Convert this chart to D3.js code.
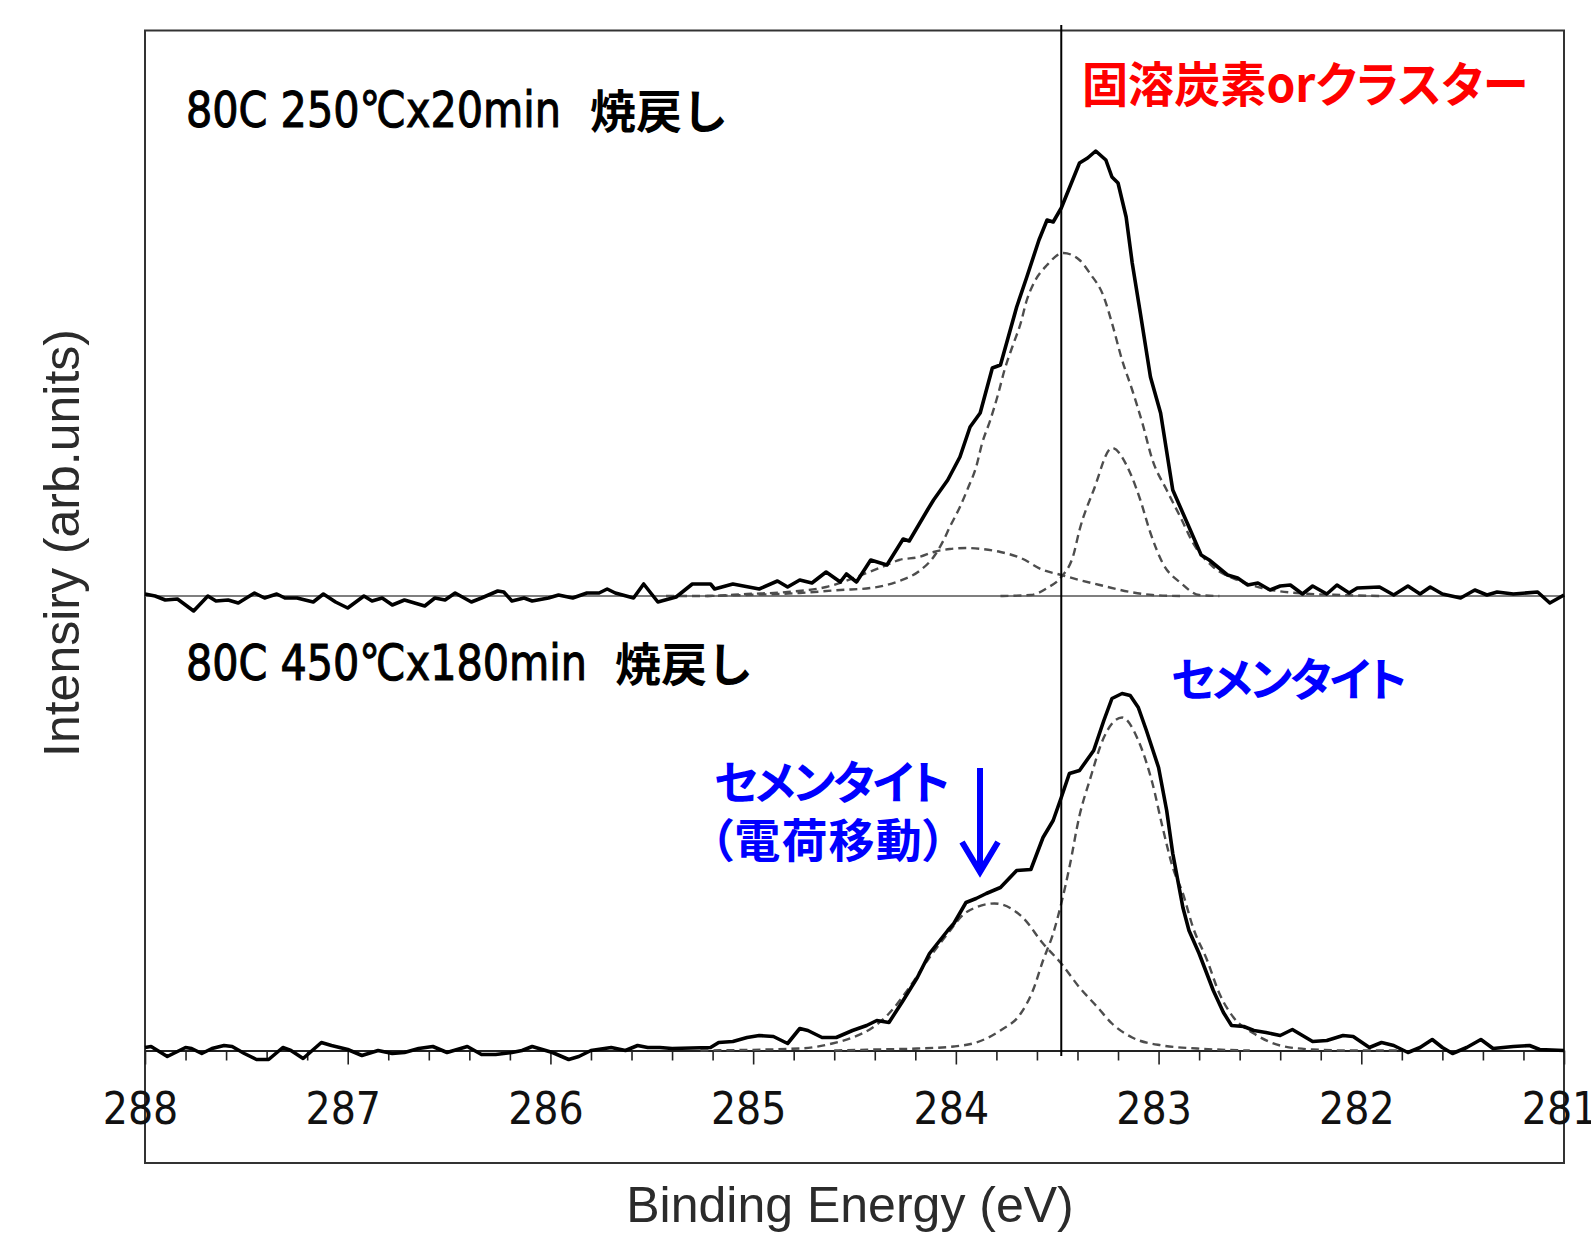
<!DOCTYPE html>
<html>
<head>
<meta charset="utf-8">
<script src="https://cdn.jsdelivr.net/npm/d3@7"></script>
<style>
  body { margin: 0; background: #fff; }
  svg { display: block; }
</style>
</head>
<body>
<svg id="chart" width="1591" height="1233"></svg>
<script>
// x axis ticks (binding energy, eV)
const majorTicks = [288, 287, 286, 285, 284, 283, 282, 281];
const refEnergy = 283.48; // vertical reference line

// upper spectrum: 80C 250°C x 20min, [eV, intensity]
const topMeasured = [
  [288.00,2],[287.95,0],[287.90,-4],[287.84,-3],[287.76,-15],[287.69,0],[287.65,-5],[287.59,-4],[287.54,-7],
  [287.46,3],[287.41,-2],[287.35,2],[287.31,-2],[287.25,-2],[287.17,-6],[287.12,2],[287.06,-6],[287.00,-12],
  [286.92,0],[286.88,-5],[286.83,-2],[286.78,-9],[286.72,-4],[286.62,-10],[286.57,-2],[286.52,-4],[286.47,3],
  [286.39,-6],[286.34,-2],[286.26,5],[286.23,4],[286.19,-5],[286.13,-2],[286.09,-5],[286.01,-2],[285.96,1],
  [285.89,-2],[285.82,3],[285.76,3],[285.72,7],[285.68,3],[285.59,-2],[285.54,12],[285.47,-6],[285.38,-1],
  [285.30,12],[285.21,12],[285.19,7],[285.10,12],[284.97,7],[284.88,15],[284.83,9],[284.77,16],[284.71,13],
  [284.64,24],[284.57,14],[284.54,22],[284.49,14],[284.42,36],[284.34,31],[284.26,57],[284.23,55],[284.14,86],
  [284.11,96],[284.04,116],[283.98,139],[283.93,169],[283.88,183],[283.82,228],[283.78,231],[283.70,289],
  [283.65,319],[283.59,356],[283.55,376],[283.52,374],[283.48,388],[283.39,433],[283.35,438],[283.31,445],
  [283.26,436],[283.23,419],[283.20,413],[283.16,379],[283.13,333],[283.09,283],[283.04,219],[282.99,183],
  [282.93,106],[282.85,69],[282.79,41],[282.75,36],[282.66,21],[282.61,18],[282.56,11],[282.51,13],[282.45,6],
  [282.40,10],[282.35,11],[282.29,2],[282.24,10],[282.17,2],[282.12,11],[282.06,3],[282.02,8],[281.91,9],
  [281.84,1],[281.77,10],[281.71,2],[281.66,9],[281.60,2],[281.51,-2],[281.44,6],[281.38,1],[281.33,4],
  [281.25,2],[281.13,4],[281.07,-7],[281.00,1]
];
const topFitA = [
  [285.23,0],[285.03,1],[284.77,3],[284.57,6],[284.42,8],[284.28,15],[284.18,25],[284.11,39],[284.06,56],
  [284.03,69],[283.98,89],[283.94,108],[283.90,129],[283.87,153],[283.83,176],[283.79,203],[283.76,226],
  [283.72,250],[283.68,273],[283.65,296],[283.62,311],[283.55,331],[283.47,343],[283.39,336],[283.34,323],
  [283.27,299],[283.23,273],[283.18,236],[283.13,206],[283.08,173],[283.03,136],[282.96,106],[282.89,78],
  [282.83,53],[282.73,29],[282.61,16],[282.49,8],[282.32,3],[282.10,1],[281.90,0]
];
const topFitB = [
  [285.43,0],[285.23,0],[285.03,2],[284.83,4],[284.64,9],[284.44,23],[284.34,31],[284.28,36],[284.18,39],
  [284.11,44],[284.03,47],[283.95,48],[283.87,47],[283.78,44],[283.68,38],[283.57,26],[283.48,21],[283.39,16],
  [283.29,11],[283.14,4],[283.03,1],[282.89,0]
];
const topFitC = [
  [283.78,0],[283.63,1],[283.55,8],[283.48,19],[283.42,41],[283.39,66],[283.32,106],[283.23,148],[283.14,123],
  [283.09,96],[283.04,63],[282.98,33],[282.89,13],[282.80,1],[282.70,0]
];

// lower spectrum: 80C 450°C x 180min
const botMeasured = [
  [288.00,3],[287.97,4],[287.89,-6],[287.84,-1],[287.80,3],[287.77,2],[287.72,-3],[287.67,2],[287.61,5],
  [287.57,4],[287.51,-3],[287.45,-9],[287.39,-9],[287.32,3],[287.28,0],[287.22,-8],[287.13,8],[287.08,5],
  [287.00,1],[286.93,-5],[286.85,0],[286.78,-3],[286.72,-2],[286.65,2],[286.58,4],[286.51,-2],[286.41,4],
  [286.34,-4],[286.27,-4],[286.19,-2],[286.14,0],[286.09,4],[285.99,-2],[285.91,-9],[285.86,-6],[285.80,0],
  [285.70,3],[285.63,0],[285.57,5],[285.52,3],[285.46,3],[285.40,2],[285.21,3],[285.17,8],[285.10,9],
  [285.03,13],[284.97,15],[284.90,14],[284.83,7],[284.77,22],[284.73,20],[284.66,13],[284.59,13],[284.51,20],
  [284.44,25],[284.39,30],[284.33,28],[284.26,50],[284.19,73],[284.13,97],[284.04,120],[284.01,127],
  [283.95,148],[283.90,152],[283.85,157],[283.78,163],[283.70,180],[283.63,181],[283.57,213],[283.52,230],
  [283.48,253],[283.44,277],[283.39,280],[283.32,300],[283.27,330],[283.23,352],[283.18,357],[283.14,355],
  [283.10,343],[283.06,320],[283.00,283],[282.96,240],[282.93,197],[282.88,143],[282.85,120],[282.80,97],
  [282.73,60],[282.68,38],[282.64,25],[282.58,24],[282.53,20],[282.47,18],[282.40,15],[282.34,21],[282.29,15],
  [282.24,9],[282.17,10],[282.09,15],[282.04,14],[281.96,3],[281.90,8],[281.84,5],[281.77,-2],[281.71,3],
  [281.65,11],[281.60,3],[281.55,-3],[281.48,3],[281.41,11],[281.35,2],[281.25,4],[281.17,5],[281.12,1],
  [281.00,0]
];
const botFitD = [
  [284.60,0],[284.40,1],[284.19,2],[284.01,4],[283.90,8],[283.78,20],[283.68,37],[283.62,60],[283.57,90],
  [283.52,117],[283.48,147],[283.44,183],[283.39,235],[283.34,270],[283.27,313],[283.18,333],[283.10,310],
  [283.03,267],[282.98,223],[282.93,183],[282.88,157],[282.83,123],[282.76,90],[282.70,57],[282.63,33],
  [282.53,17],[282.40,5],[282.24,1],[282.06,0],[281.81,0]
];
const botFitE = [
  [285.26,0],[284.77,2],[284.61,7],[284.51,13],[284.41,23],[284.33,37],[284.24,60],[284.14,90],[284.04,117],
  [283.95,138],[283.81,147],[283.67,133],[283.57,107],[283.48,87],[283.39,63],[283.30,43],[283.23,27],
  [283.13,13],[282.98,5],[282.81,2],[282.55,0]
];

const frame = { left: 145, top: 30.5, right: 1564, bottom: 1163 };
const svg = d3.select('#chart');

const x = d3.scaleLinear().domain([288, 281]).range([frame.left, frame.right]);
const yTop = d3.scaleLinear().domain([0, 450]).range([596, 146]);
const yBot = d3.scaleLinear().domain([0, 450]).range([1050.5, 600.5]);

const narrow = '"Liberation Sans Narrow", "DejaVu Sans Condensed", "Liberation Sans", sans-serif';
const jp = '"Noto Sans CJK JP", "Noto Sans", sans-serif';

// frame
svg.append('rect')
  .attr('x', frame.left).attr('y', frame.top)
  .attr('width', frame.right - frame.left).attr('height', frame.bottom - frame.top)
  .attr('fill', 'none').attr('stroke', '#333').attr('stroke-width', 2);

// baseline of upper spectrum
svg.append('line')
  .attr('x1', frame.left).attr('x2', frame.right)
  .attr('y1', yTop(0)).attr('y2', yTop(0))
  .attr('stroke', '#555').attr('stroke-width', 1.6);

// x axis with minor ticks
const minorTicks = d3.range(281, 288.001, 0.2).filter(v => Math.abs(v - Math.round(v)) > 0.01);
svg.append('g')
  .attr('transform', `translate(0,${yBot(0)})`)
  .call(d3.axisBottom(x).tickValues(minorTicks).tickSize(10).tickSizeOuter(0).tickFormat(''))
  .call(g => g.select('.domain').remove())
  .selectAll('line').attr('stroke', '#222').attr('stroke-width', 1.6);

const axis = svg.append('g')
  .attr('transform', `translate(0,${yBot(0)})`)
  .call(d3.axisBottom(x).tickValues(majorTicks).tickSize(14).tickSizeOuter(0).tickFormat(d3.format('d')));
axis.select('.domain').attr('stroke', '#222').attr('stroke-width', 2);
axis.selectAll('.tick line').attr('stroke', '#222').attr('stroke-width', 1.6);
axis.selectAll('.tick text')
  .attr('y', 1124 - yBot(0)).attr('dy', null).attr('x', -5)
  .attr('fill', '#111')
  .style('font-family', narrow).style('font-size', '44px');

// fitted components (dashed)
const smooth = ys => d3.line().x(d => x(d[0])).y(d => ys(d[1])).curve(d3.curveMonotoneX);
const raw = ys => d3.line().x(d => x(d[0])).y(d => ys(d[1]));

[[topFitA, yTop], [topFitB, yTop], [topFitC, yTop], [botFitD, yBot], [botFitE, yBot]].forEach(([s, ys]) => {
  svg.append('path')
    .attr('d', smooth(ys)(s))
    .attr('fill', 'none').attr('stroke', '#4d4d4d').attr('stroke-width', 2.4)
    .attr('stroke-dasharray', '8,5');
});

// measured spectra
[[topMeasured, yTop], [botMeasured, yBot]].forEach(([s, ys]) => {
  svg.append('path')
    .attr('d', raw(ys)(s))
    .attr('fill', 'none').attr('stroke', '#000').attr('stroke-width', 3.6)
    .attr('stroke-linejoin', 'round');
});

// reference line
svg.append('line')
  .attr('x1', x(refEnergy)).attr('x2', x(refEnergy))
  .attr('y1', 25).attr('y2', 1056)
  .attr('stroke', '#000').attr('stroke-width', 2);

// sample labels
function sampleLabel(latin, latinWidth, y, cjkX) {
  svg.append('text')
    .attr('x', 186).attr('y', y)
    .attr('textLength', latinWidth).attr('lengthAdjust', 'spacingAndGlyphs')
    .style('font-family', narrow).style('font-size', '50px')
    .attr('fill', '#000').attr('stroke', '#000').attr('stroke-width', 1)
    .text(latin);
  svg.append('text')
    .attr('x', cjkX).attr('y', y + 1)
    .style('font-family', jp).style('font-size', '46px').style('font-weight', 'bold').attr('fill', '#000')
    .text('焼戻し');
}
sampleLabel('80C 250℃x20min', 375, 127, 590);
sampleLabel('80C 450℃x180min', 401, 680, 615);

// annotations
svg.append('text')
  .attr('x', 1082).attr('y', 102)
  .attr('textLength', 446).attr('lengthAdjust', 'spacingAndGlyphs')
  .style('font-family', jp).style('font-size', '48px').style('font-weight', 'bold')
  .style('font-feature-settings', '"palt"')
  .attr('fill', '#ff0000')
  .text('固溶炭素orクラスター');

function blue(txt, xx, yy, len) {
  svg.append('text')
    .attr('x', xx).attr('y', yy)
    .attr('textLength', len).attr('lengthAdjust', 'spacing')
    .style('font-family', jp).style('font-size', '46px').style('font-weight', 'bold')
    .style('font-feature-settings', '"palt"')
    .attr('fill', '#0000ff')
    .text(txt);
}
blue('セメンタイト', 1171, 696, 236);
blue('セメンタイト', 714, 799, 236);
blue('（電荷移動）', 710, 857, 236);

// arrow
svg.append('path')
  .attr('d', 'M980,768 V870 M962,842 L980,872 L998,842')
  .attr('fill', 'none').attr('stroke', '#0000ff').attr('stroke-width', 6)
  .attr('stroke-linejoin', 'miter');

// axis titles
svg.append('text')
  .attr('transform', 'translate(79,543) rotate(-90)')
  .attr('text-anchor', 'middle')
  .style('font-family', '"Liberation Sans", Arial, sans-serif').style('font-size', '50px')
  .attr('fill', '#2b2b2b')
  .text('Intensiry (arb.units)');

svg.append('text')
  .attr('x', 850).attr('y', 1222)
  .attr('text-anchor', 'middle')
  .style('font-family', '"Liberation Sans", Arial, sans-serif').style('font-size', '50px')
  .attr('fill', '#2b2b2b')
  .text('Binding Energy (eV)');
</script>
</body>
</html>
